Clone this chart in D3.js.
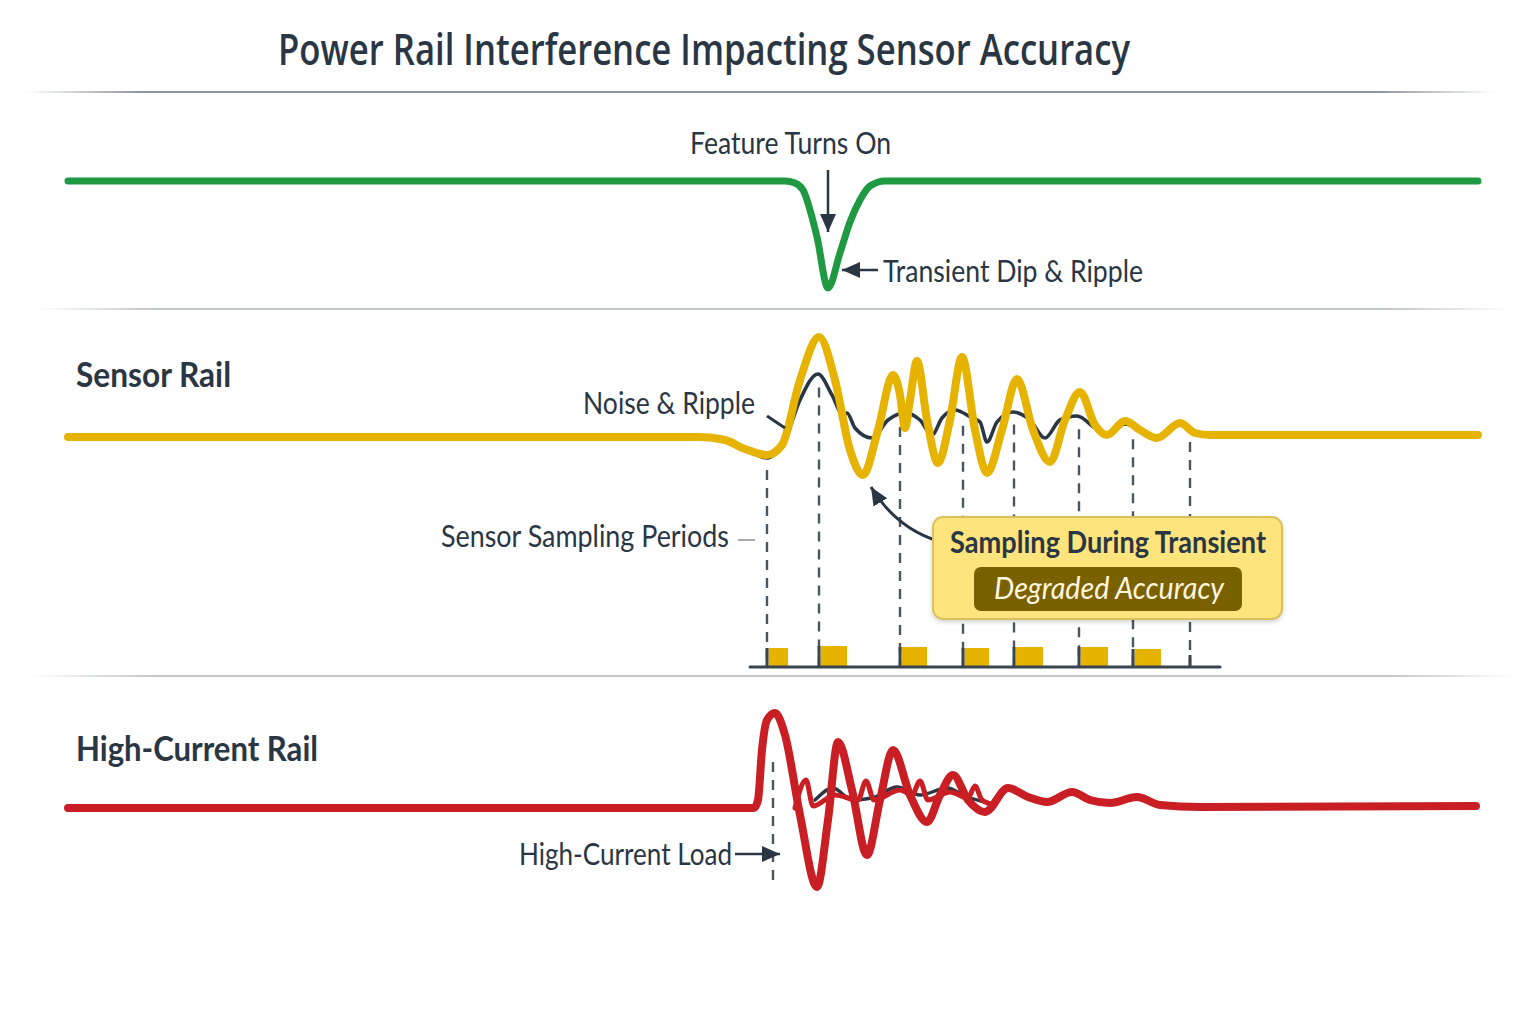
<!DOCTYPE html>
<html><head><meta charset="utf-8">
<script src="https://cdn.jsdelivr.net/npm/d3@7"></script>
<style>body{margin:0;background:#fff}svg{display:block}</style>
</head><body><svg id="c" width="1536" height="1024"></svg>
<script>
// ---------- DATA (time in ms, values = rail deviation in arbitrary units) ----------
const chartTitle = "Power Rail Interference Impacting Sensor Accuracy";
const featureRail = [[0,0],[71.7,0],[72.7,-0.2],[73.5,-0.9],[74.9,-5.6],[76.0,-10.7],[77.2,-7.2],[78.2,-4.1],[79.2,-1.9],[80.2,-0.5],[81.7,0],[141,0]];
const sensorRail = [[0,0],[63.2,0],[65.7,-0.3],[67.7,-1.2],[69.9,-1.8],[71.4,-0.8],[73.2,5.7],[75.1,10.0],[76.7,5.7],[78.2,-1.3],[79.5,-3.8],[81.0,0.7],[82.5,6.2],[83.2,4.2],[83.7,0.9],[84.2,3.7],[84.9,7.6],[85.9,1.7],[87.0,-2.6],[88.2,1.7],[89.4,8.0],[90.7,0.7],[91.9,-3.6],[93.4,0.7],[94.9,5.8],[96.5,0.7],[98.2,-2.5],[99.7,1.7],[101.2,4.5],[102.7,1.2],[103.9,0.2],[105.7,1.6],[107.2,0.7],[108.9,-0.1],[111.2,1.4],[112.7,0.4],[114.2,0.2],[141,0.2]];
const sensorNoise = [[66.2,-0.4],[68.2,-1.5],[69.9,-2.1],[71.7,-0.3],[73.2,3.7],[75.0,6.3],[76.4,4.2],[77.5,2.2],[77.9,2.4],[78.7,0.9],[80.4,-0.1],[82.0,1.7],[83.7,2.4],[85.2,1.7],[86.4,0.2],[87.4,1.9],[88.7,2.7],[90.4,1.9],[91.2,1.5],[91.9,-0.5],[92.9,1.5],[94.5,2.5],[96.2,1.7],[97.7,-0.1],[99.2,1.7],[100.9,2.1],[102.7,0.9],[103.9,0.2],[105.7,1.3],[108.9,0],[111.2,1.2],[113.2,0.2]];
const highRail = [[0,0],[68.6,0],[69.0,0.8],[69.4,5.8],[69.9,8.8],[70.7,9.5],[71.7,7.3],[73.2,-0.7],[74.9,-7.9],[76.0,-1.2],[77.0,6.6],[78.4,1.8],[79.9,-4.7],[81.2,0.8],[82.5,5.8],[84.2,1.3],[85.9,-1.4],[87.2,1.3],[88.5,3.3],[90.0,0.8],[91.7,-0.4],[94.0,2.0],[96.0,1.1],[97.9,0.6],[100.4,1.6],[102.2,0.8],[104.2,0.5],[106.9,1.1],[109.2,0.3],[113.2,0.1],[140.8,0.2]];
const highRipple = [[72.7,0],[73.8,2.8],[74.5,0.2],[76.7,1.3],[79.0,0.8],[79.8,2.7],[80.6,0.8],[83.2,1.8],[84.4,1.3],[85.2,2.7],[86.0,0.8],[88.2,1.6],[90.0,1.0],[90.7,2.2],[91.4,0.8],[92.7,0.3]];
const highBase = [[74.7,0.8],[76.5,2.0],[78.4,0.8],[80.4,1.0],[82.9,2.1],[85.2,1.3],[87.9,2.0],[89.9,1.1],[91.7,0.6]];
const sampleStarts = [69.9, 75.1, 83.2, 89.5, 94.6, 101.1, 106.5, 112.2];
const sampleWidths = [2.1, 2.8, 2.7, 2.6, 2.9, 2.9, 2.8];
const sampleLevels = [0.95, 1.05, 1.0, 0.95, 1.0, 1.0, 0.9];
const loadOnset = 70.5;
const sampleAxis = [68.2, 115.2];

// ---------- STYLE ----------
const INK = "#2a3644", GREEN = "#1f9a43", YELLOW = "#e5b300", RED = "#c81e24";
const FONT = "Lato, 'Open Sans', sans-serif";

const svg = d3.select("#c");
const x = d3.scaleLinear().domain([0,141]).range([68,1478]);
const yF = d3.scaleLinear().domain([0,1]).range([181,171]);
const yS = d3.scaleLinear().domain([0,1]).range([437,427]);
const yH = d3.scaleLinear().domain([0,1]).range([808,798]);
const yB = d3.scaleLinear().domain([0,1]).range([667,647]);

const defs = svg.append("defs");
function fadeGrad(id, col){
  const g = defs.append("linearGradient").attr("id",id).attr("x1","0%").attr("x2","100%");
  g.append("stop").attr("offset","0%").attr("stop-color",col).attr("stop-opacity",0);
  g.append("stop").attr("offset","8%").attr("stop-color",col).attr("stop-opacity",1);
  g.append("stop").attr("offset","92%").attr("stop-color",col).attr("stop-opacity",1);
  g.append("stop").attr("offset","100%").attr("stop-color",col).attr("stop-opacity",0);
}
fadeGrad("fadeDark","#8c949b");
fadeGrad("fadeLight","#c3c8cd");
const mk = defs.append("marker").attr("id","arr").attr("markerUnits","userSpaceOnUse")
  .attr("markerWidth",24).attr("markerHeight",24).attr("refX",18).attr("refY",8).attr("orient","auto");
mk.append("path").attr("d","M0,0 L18,8 L0,16 Z").attr("fill",INK);
const sh = defs.append("filter").attr("id","sh").attr("x","-10%").attr("y","-10%").attr("width","120%").attr("height","130%");
sh.append("feDropShadow").attr("dx",0).attr("dy",2).attr("stdDeviation",2).attr("flood-color","#000").attr("flood-opacity",0.18);

// separators
svg.append("rect").attr("x",25).attr("y",91).attr("width",1470).attr("height",2).attr("fill","url(#fadeDark)");
svg.append("rect").attr("x",35).attr("y",308).attr("width",1475).attr("height",2).attr("fill","url(#fadeLight)");
svg.append("rect").attr("x",30).attr("y",675).attr("width",1485).attr("height",2).attr("fill","url(#fadeLight)");

function txt(s, px, py, size, len, opts={}){
  const t = svg.append("text").attr("x",px).attr("y",py).text(s)
    .attr("font-family", opts.family || FONT).attr("font-size",size)
    .attr("font-weight", opts.weight || 400).attr("fill", opts.fill || INK)
    .attr("font-style", opts.style || "normal");
  if(len) t.attr("textLength",len).attr("lengthAdjust","spacingAndGlyphs");
  return t;
}
txt(chartTitle, 278, 65, 44, 852, {family:"'Open Sans', Lato, sans-serif", weight:600});

const curve = d3.curveMonotoneX;
const lineOf = (ys) => d3.line().x(d=>x(d[0])).y(d=>ys(d[1])).curve(curve);
function wave(data, ys, col, w){
  return svg.append("path").attr("d", lineOf(ys)(data)).attr("fill","none")
    .attr("stroke",col).attr("stroke-width",w).attr("stroke-linejoin","round").attr("stroke-linecap","round");
}

// ---------- Feature rail ----------
wave(featureRail, yF, GREEN, 7);
txt("Feature Turns On", 690, 154, 30, 201);
const dipT = 76.0;
svg.append("line").attr("x1",x(dipT)).attr("x2",x(dipT)).attr("y1",170).attr("y2",232)
  .attr("stroke",INK).attr("stroke-width",2.5).attr("marker-end","url(#arr)");
svg.append("line").attr("x1",878).attr("x2",842).attr("y1",270).attr("y2",270)
  .attr("stroke",INK).attr("stroke-width",2.5).attr("marker-end","url(#arr)");
txt("Transient Dip & Ripple", 883, 282, 31, 260);

// ---------- Sensor rail ----------
txt("Sensor Rail", 76, 387, 35, 155, {weight:700});
function interp(arr, t){
  const i = d3.bisector(d=>d[0]).left(arr, t);
  if(i<=0) return arr[0][1]; if(i>=arr.length) return arr[arr.length-1][1];
  const a = arr[i-1], b = arr[i]; return a[1] + (b[1]-a[1])*(t-a[0])/(b[0]-a[0]);
}
sampleStarts.forEach(t=>{
  const top = yS(interp(sensorNoise, t)) + 12;
  svg.append("line").attr("x1",x(t)).attr("x2",x(t)).attr("y1",top).attr("y2",yB(0))
    .attr("stroke","#4a5560").attr("stroke-width",2.4).attr("stroke-dasharray","10,8");
});
wave(sensorNoise, yS, INK, 3.6);
wave(sensorRail, yS, YELLOW, 8);
txt("Noise & Ripple", 583, 414, 31, 172);
svg.append("line").attr("x1",767).attr("y1",416).attr("x2",785).attr("y2",428).attr("stroke",INK).attr("stroke-width",3);
txt("Sensor Sampling Periods", 441, 547, 31, 288);
svg.append("line").attr("x1",738).attr("x2",755).attr("y1",540).attr("y2",540).attr("stroke","#8a9299").attr("stroke-width",1.5);

svg.selectAll(".bar").data(sampleWidths).join("rect").attr("class","bar")
  .attr("x",(d,i)=>x(sampleStarts[i])+1.5).attr("width",(d,i)=>x(sampleStarts[i]+d)-x(sampleStarts[i])-1.5)
  .attr("y",(d,i)=>yB(sampleLevels[i])).attr("height",(d,i)=>yB(0)-yB(sampleLevels[i])).attr("fill",YELLOW);
sampleStarts.forEach((t,i)=>{
  const top = i < sampleLevels.length ? yB(sampleLevels[i]) : yB(0.6);
  svg.append("line").attr("x1",x(t)).attr("x2",x(t)).attr("y1",top).attr("y2",yB(0)).attr("stroke","#3a4550").attr("stroke-width",3);
});
svg.append("line").attr("x1",x(sampleAxis[0])).attr("x2",x(sampleAxis[1])).attr("y1",yB(0)).attr("y2",yB(0))
  .attr("stroke","#3a4550").attr("stroke-width",3).attr("stroke-linecap","round");

// callout
const minT = 79.5;
svg.append("path").attr("d",`M938,541 Q896,528 ${x(minT)+8},${yS(-3.8)+12}`).attr("fill","none")
  .attr("stroke",INK).attr("stroke-width",3).attr("marker-end","url(#arr)");
svg.append("rect").attr("x",933).attr("y",517).attr("width",349).attr("height",102).attr("rx",10)
  .attr("fill","#fde47c").attr("stroke","#dcc060").attr("stroke-width",2).attr("filter","url(#sh)");
txt("Sampling During Transient", 950, 553, 31, 316, {weight:700});
svg.append("rect").attr("x",974).attr("y",567).attr("width",268).attr("height",44).attr("rx",7).attr("fill","#7a6100");
txt("Degraded Accuracy", 994, 599, 31, 230, {style:"italic", fill:"#fff6df"});

// ---------- High-current rail ----------
txt("High-Current Rail", 76, 761, 35, 242, {weight:700});
svg.append("line").attr("x1",x(loadOnset)).attr("x2",x(loadOnset)).attr("y1",762).attr("y2",882)
  .attr("stroke","#4a5560").attr("stroke-width",2.4).attr("stroke-dasharray","10,8");
wave(highBase, yH, INK, 3.4);
wave(highRail, yH, RED, 8);
wave(highRipple, yH, RED, 5);
txt("High-Current Load", 519, 865, 31, 213);
svg.append("line").attr("x1",735).attr("x2",780).attr("y1",854).attr("y2",854)
  .attr("stroke",INK).attr("stroke-width",2.5).attr("marker-end","url(#arr)");
</script></body></html>
